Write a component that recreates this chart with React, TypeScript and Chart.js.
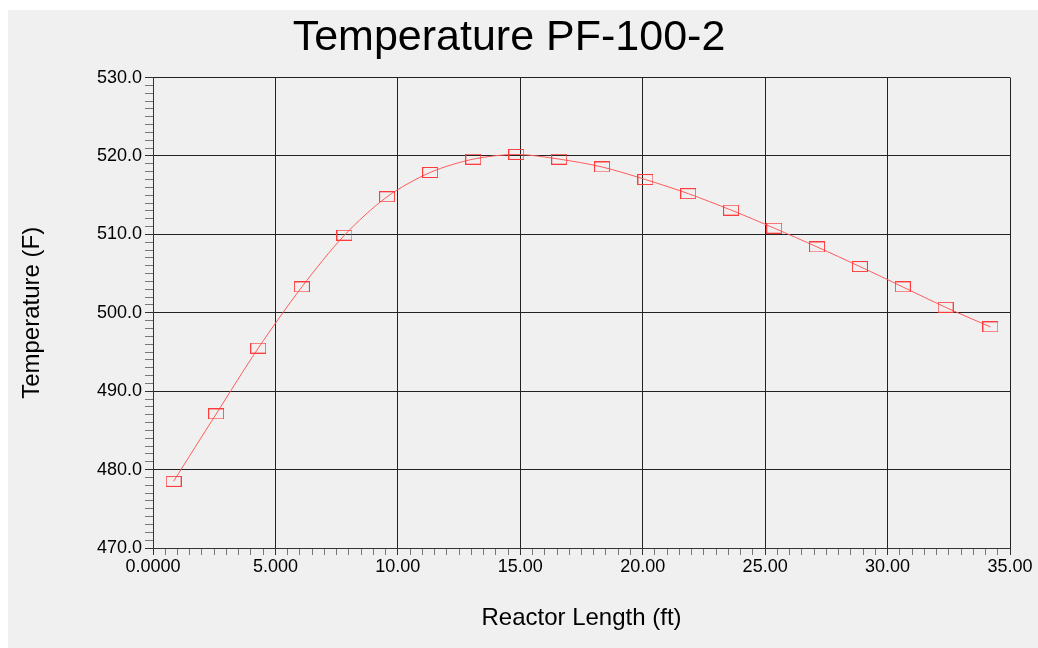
import React, { useEffect, useRef } from "react";
import { Chart, registerables } from "chart.js";

Chart.register(...registerables);

const chartTitle = "Temperature PF-100-2";
const xAxisTitle = "Reactor Length (ft)";
const yAxisTitle = "Temperature (F)";

const reactorLength = [0.84, 2.58, 4.3, 6.08, 7.82, 9.56, 11.32, 13.08, 14.84, 16.59, 18.34, 20.11, 21.86, 23.61, 25.37, 27.12, 28.87, 30.62, 32.37, 34.2];
const temperature = [478.5, 487.1, 495.5, 503.3, 509.9, 514.8, 517.9, 519.6, 520.2, 519.6, 518.6, 517.0, 515.2, 513.1, 510.8, 508.4, 505.9, 503.3, 500.7, 498.2];

const xMin = 0;
const xMax = 35;
const xMajor = 5;
const xMinor = 0.5;
const yMin = 470;
const yMax = 530;
const yMajor = 10;
const yMinor = 1;

const FONT = "'Liberation Sans', Arial, sans-serif";

function isMajor(v: number, step: number) {
  return Math.abs(v / step - Math.round(v / step)) < 1e-6;
}

function fmtX(v: number) {
  if (Math.abs(v) < 1e-9) return "0.0000";
  if (v < 10) return v.toFixed(3);
  return v.toFixed(2);
}

function makeMarker() {
  const c = document.createElement("canvas");
  c.width = 16;
  c.height = 11;
  const ctx = c.getContext("2d")!;
  ctx.strokeStyle = "#ff3c3c";
  ctx.lineWidth = 1;
  ctx.strokeRect(0.5, 0.5, 15, 10);
  return c;
}

export default function App() {
  const ref = useRef<HTMLCanvasElement>(null);

  useEffect(() => {
    if (!ref.current) return;
    const marker = makeMarker();
    const chart = new Chart(ref.current, {
      type: "line",
      data: {
        datasets: [
          {
            data: reactorLength.map((x, i) => ({ x, y: temperature[i] })),
            borderColor: "#ff5a5a",
            borderWidth: 1,
            pointStyle: marker as any,
            pointRadius: 7,
            tension: 0.3,
            fill: false,
          },
        ],
      },
      options: {
        animation: false,
        responsive: false,
        devicePixelRatio: 1,
        layout: { padding: { left: 0, right: 28, top: 0, bottom: 0 } },
        plugins: {
          legend: { display: false },
          tooltip: { enabled: false },
          title: {
            display: true,
            text: chartTitle,
            color: "#000",
            font: { family: FONT, size: 43, weight: "normal" as any, lineHeight: 1.2 },
            padding: { top: 2, bottom: 14 },
          },
        },
        scales: {
          x: {
            type: "linear",
            min: xMin,
            max: xMax,
            afterFit: (s: any) => {
              s.height = 100;
              s.paddingLeft = 0;
              s.paddingRight = 0;
            },
            ticks: {
              stepSize: xMinor,
              autoSkip: false,
              maxRotation: 0,
              minRotation: 0,
              padding: 1,
              color: "#000",
              font: { family: FONT, size: 18 },
              callback: (v: any) => (isMajor(Number(v), xMajor) ? fmtX(Number(v)) : ""),
            },
            grid: {
              color: (ctx: any) => (isMajor(ctx.tick?.value ?? 0, xMajor) ? "#222" : "rgba(0,0,0,0)"),
              tickColor: (ctx: any) => (isMajor(ctx.tick?.value ?? 0, xMajor) ? "#333" : "#777"),
              tickLength: 7,
              drawTicks: true,
              lineWidth: 1,
            },
            border: { display: true, color: "#333", width: 1 },
            title: {
              display: true,
              text: xAxisTitle,
              color: "#000",
              font: { family: FONT, size: 24, lineHeight: 1.2 },
              padding: { top: 0, bottom: 15 },
            },
          },
          y: {
            type: "linear",
            min: yMin,
            max: yMax,
            afterFit: (s: any) => {
              s.width = 145;
              s.paddingTop = 0;
              s.paddingBottom = 0;
            },
            ticks: {
              stepSize: yMinor,
              autoSkip: false,
              padding: 3,
              color: "#000",
              font: { family: FONT, size: 18 },
              callback: (v: any) => (isMajor(Number(v), yMajor) ? Number(v).toFixed(1) : ""),
            },
            grid: {
              color: (ctx: any) => (isMajor(ctx.tick?.value ?? 0, yMajor) ? "#222" : "rgba(0,0,0,0)"),
              tickColor: (ctx: any) => (isMajor(ctx.tick?.value ?? 0, yMajor) ? "#333" : "#777"),
              tickLength: 8,
              drawTicks: true,
              lineWidth: 1,
            },
            border: { display: true, color: "#333", width: 1 },
            title: {
              display: true,
              text: yAxisTitle,
              color: "#000",
              font: { family: FONT, size: 24, lineHeight: 1.2 },
              padding: { top: 10, bottom: 0 },
            },
          },
        },
      },
    });
    return () => chart.destroy();
  }, []);

  return (
    <div
      style={{
        position: "absolute",
        left: 8,
        top: 10,
        width: 1030,
        height: 638,
        background: "#f0f0f0",
      }}
    >
      <canvas ref={ref} width={1030} height={638} style={{ display: "block" }} />
    </div>
  );
}
